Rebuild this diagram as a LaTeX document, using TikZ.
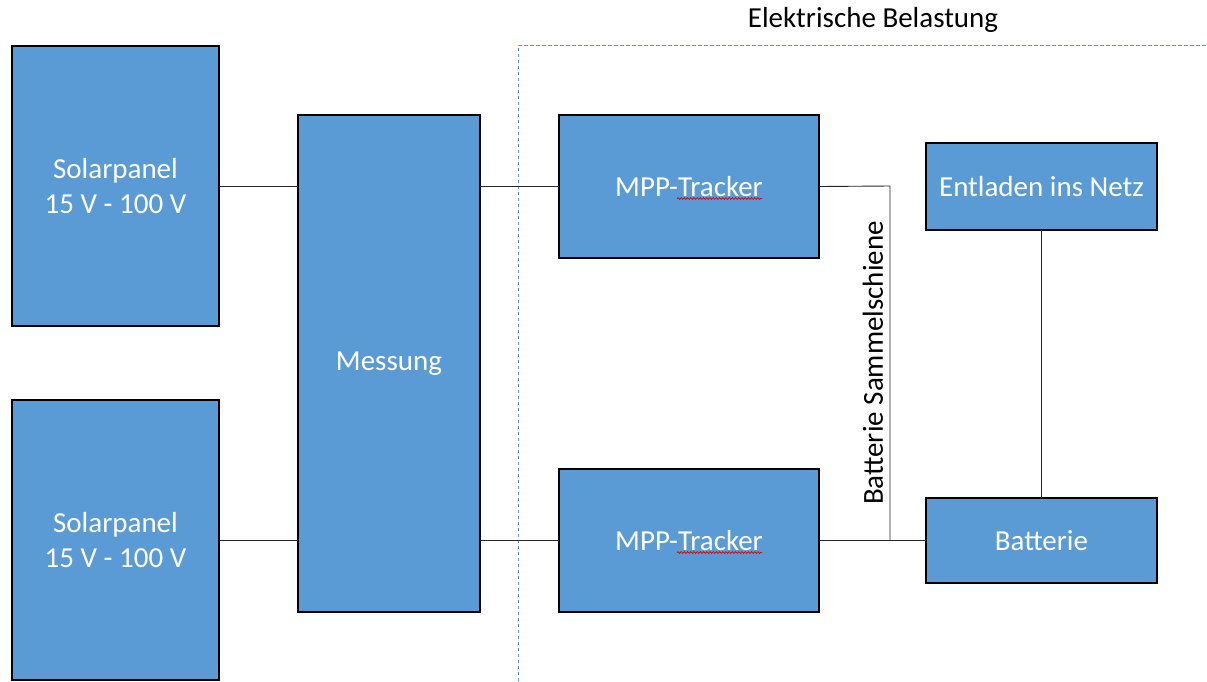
\documentclass[tikz,border=0pt]{standalone}
\usepackage{fontspec}
\setmainfont{Carlito}
\usetikzlibrary{calc,decorations.pathmorphing}
\definecolor{boxblue}{HTML}{5B9BD5}
\definecolor{zonecol}{HTML}{5E8FC2}
\tikzset{
  block/.style={rectangle, draw=black, line width=2.8pt, fill=boxblue,
    text=white, font=\fontsize{29}{35}\selectfont, align=center,
    inner sep=0pt, outer sep=0pt},
  wire/.style={draw=black!85, line width=0.9pt},
  zone/.style={draw=zonecol, line width=0.9pt, dash pattern=on 3.5pt off 2.5pt},
  spell/.style={draw=red!85!black, line width=0.7pt, decorate,
    decoration={snake, amplitude=0.9pt, segment length=3.2pt}}
}
\begin{document}
\begin{tikzpicture}[x=1pt, y=-1pt]
  \useasboundingbox (0,0) rectangle (1207,681);

  % load area
  \coordinate (zoneTL) at (518,45);
  \coordinate (zoneTR) at (1207,45);
  \coordinate (zoneBL) at (518,681);
  \draw[zone] (zoneBL) -- (zoneTL) -- (zoneTR);
  \node[font=\fontsize{29}{35}\selectfont, text=black] (zonelabel) at (873,20) {Elektrische Belastung};

  % blocks
  \node[block, minimum width=207pt, minimum height=280pt] (sp1) at (115.5,186) {Solarpanel\\15 V - 100 V};
  \node[block, minimum width=207pt, minimum height=280pt] (sp2) at (115.5,540) {Solarpanel\\15 V - 100 V};
  \node[block, minimum width=182pt, minimum height=497pt] (mess) at (389,363.5) {Messung};
  \node[block, minimum width=260pt, minimum height=143pt] (mpp1) at (689,186.5) {MPP-Tracker};
  \node[block, minimum width=260pt, minimum height=143pt] (mpp2) at (689,540.5) {MPP-Tracker};
  \node[block, minimum width=231pt, minimum height=87pt] (netz) at (1041.5,186.5) {Entladen ins Netz};
  \node[block, minimum width=231pt, minimum height=85pt] (batt) at (1041.5,540.5) {Batterie};

  % spell-check marks under "Tracker"
  \draw[spell] ($(mpp1.center)+(-12,12)$) -- ++(85,0);
  \draw[spell] ($(mpp2.center)+(-12,12)$) -- ++(85,0);

  % bus bar
  \coordinate (busT) at (890,186);
  \coordinate (busB) at (890,540.5);
  \node[rotate=90, font=\fontsize{29}{35}\selectfont, text=black] (buslabel) at (873,363) {Batterie Sammelschiene};

  % wiring
  \draw[wire] (sp1.east) -- (sp1.east -| mess.west);
  \draw[wire] (sp2.east) -- (sp2.east -| mess.west);
  \draw[wire] (mess.east |- mpp1.west) -- (mpp1.west);
  \draw[wire] (mess.east |- mpp2.west) -- (mpp2.west);
  \draw[wire] (mpp1.east) -- (busT) -- (busB);
  \draw[wire] (mpp2.east) -- (batt.west);
  \draw[wire] (netz.south) -- (batt.north);
\end{tikzpicture}
\end{document}
